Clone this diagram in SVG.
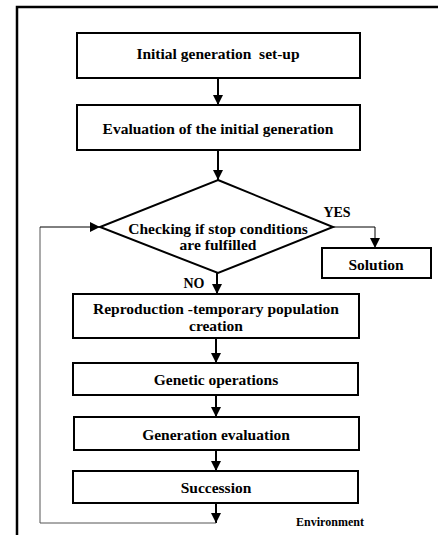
<svg xmlns="http://www.w3.org/2000/svg" width="438" height="535" viewBox="0 0 438 535">
<style>
.box{fill:#fff;stroke:#000;stroke-width:2}
.t{font-family:"Liberation Serif","Times New Roman",serif;font-weight:bold;font-size:15.5px;fill:#000;text-anchor:middle}
.c{fill:none;stroke:#000;stroke-width:2}
.thin{fill:none;stroke:#000;stroke-width:1}
.gray{fill:none;stroke:#555;stroke-width:1}
</style>
<defs>
<marker id="ah" markerUnits="userSpaceOnUse" markerWidth="10" markerHeight="10" viewBox="0 0 10 10" refX="10" refY="5" orient="auto">
<path d="M0,0 L10,5 L0,10 z" fill="#000"/>
</marker>
</defs>
<rect x="17" y="7" width="440" height="560" fill="none" stroke="#000" stroke-width="2.5"/>
<g id="connectors">
<line class="c" x1="218" y1="78" x2="218" y2="105" marker-end="url(#ah)"/>
<line class="c" x1="218" y1="150" x2="218" y2="180" marker-end="url(#ah)"/>
<polyline class="thin" points="333,227 375,227 375,248" marker-end="url(#ah)"/>
<line class="c" x1="217" y1="273" x2="217" y2="294" marker-end="url(#ah)"/>
<line class="c" x1="216" y1="338" x2="216" y2="363" marker-end="url(#ah)"/>
<line class="c" x1="216" y1="395" x2="216" y2="417" marker-end="url(#ah)"/>
<line class="c" x1="216" y1="450" x2="216" y2="471" marker-end="url(#ah)"/>
<line class="c" x1="216" y1="503" x2="216" y2="523" marker-end="url(#ah)"/>
<polyline class="gray" points="216,523 40,523 40,227"/>
<line class="thin" x1="40" y1="227" x2="100" y2="227" stroke-width="1.5" marker-end="url(#ah)"/>
</g>
<g id="n1"><rect class="box" x="77" y="33" width="283" height="45"/><text class="t" x="218" y="59" xml:space="preserve">Initial generation  set-up</text></g>
<g id="n2"><rect class="box" x="77" y="105" width="283" height="45"/><text class="t" x="218" y="134">Evaluation of the initial generation</text></g>
<g id="n3"><polygon class="box" points="218,180 333,227 218,273 100,227"/><text class="t" x="218" y="234">Checking if stop conditions</text><text class="t" x="218" y="250">are fulfilled</text></g>
<g id="n4"><rect class="box" x="322" y="248" width="109" height="30"/><text class="t" x="376" y="270">Solution</text></g>
<g id="n5"><rect class="box" x="73" y="294" width="286" height="44"/><text class="t" x="216" y="314">Reproduction -temporary population</text><text class="t" x="216" y="331">creation</text></g>
<g id="n6"><rect class="box" x="73" y="363" width="285" height="32"/><text class="t" x="216" y="385">Genetic operations</text></g>
<g id="n7"><rect class="box" x="74" y="417" width="285" height="33"/><text class="t" x="216" y="440">Generation evaluation</text></g>
<g id="n8"><rect class="box" x="73" y="471" width="285" height="32"/><text class="t" x="216" y="493">Succession</text></g>
<text class="t" x="337" y="217" style="font-size:14px">YES</text>
<text class="t" x="194" y="288" style="font-size:14px">NO</text>
<text class="t" x="330" y="526" style="font-size:12px">Environment</text>
</svg>
